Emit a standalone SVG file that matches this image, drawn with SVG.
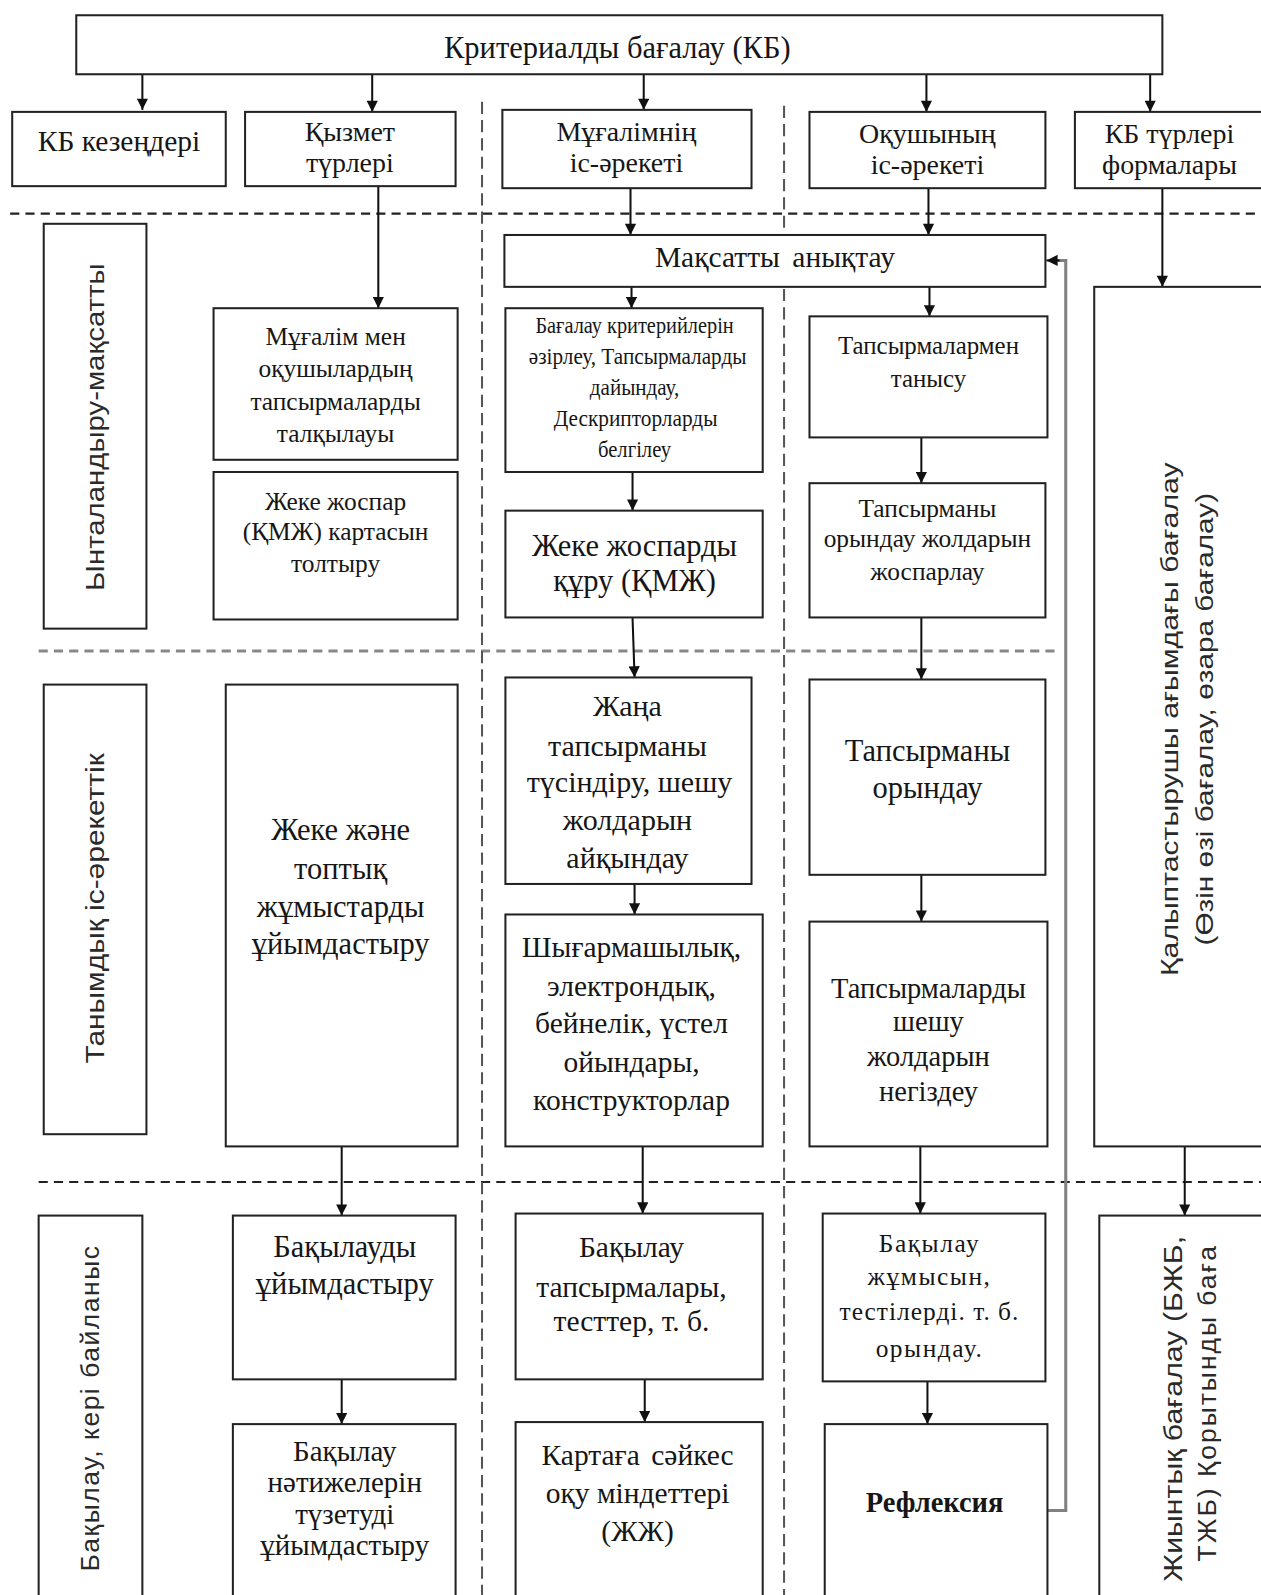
<svg xmlns="http://www.w3.org/2000/svg" width="1261" height="1595" viewBox="0 0 1261 1595">
<defs>
<style>
.bg{fill:#fff}
.box{fill:#fff;stroke:#222;stroke-width:2}
.t{font-family:"Liberation Serif","Times New Roman",serif;fill:#161616;text-anchor:middle}
.s{font-family:"Liberation Sans",Arial,sans-serif;fill:#2a2a2a;text-anchor:middle}
.c{fill:none;stroke:#111;stroke-width:2}
.fb{fill:none;stroke:#808080;stroke-width:3}
.hd{fill:none;stroke:#222;stroke-width:2;stroke-dasharray:9 6}
.hg{fill:none;stroke:#888;stroke-width:3;stroke-dasharray:9 6}
.vd{fill:none;stroke:#555;stroke-width:2;stroke-dasharray:12 6}
</style>
<marker id="ah" viewBox="0 0 10 10" refX="10" refY="5" markerUnits="userSpaceOnUse" markerWidth="13" markerHeight="11" orient="auto">
<path d="M0,0 L10,5 L0,10 z" fill="#111"/>
</marker>
</defs>
<rect class="bg" x="0" y="0" width="1261" height="1595"/>
<g id="diagram" transform="scale(1.01694,1.01722)">

<g id="separators">
<line class="hd" x1="10" y1="210" x2="1261" y2="210"/>
<line class="hg" x1="38" y1="640" x2="1040" y2="640"/>
<line class="hd" x1="38" y1="1162" x2="1261" y2="1162"/>
<line class="vd" x1="474" y1="100" x2="474" y2="1595"/>
<line class="vd" x1="771" y1="104" x2="771" y2="1595"/>
</g>

<g id="connectors">
<line class="c" x1="140" y1="73" x2="140" y2="108" marker-end="url(#ah)"/>
<line class="c" x1="366" y1="73" x2="366" y2="110" marker-end="url(#ah)"/>
<line class="c" x1="633" y1="73" x2="633" y2="108" marker-end="url(#ah)"/>
<line class="c" x1="911" y1="73" x2="911" y2="110" marker-end="url(#ah)"/>
<line class="c" x1="1131" y1="73" x2="1131" y2="110" marker-end="url(#ah)"/>
<line class="c" x1="372" y1="183" x2="372" y2="303" marker-end="url(#ah)"/>
<line class="c" x1="620" y1="185" x2="620" y2="231" marker-end="url(#ah)"/>
<line class="c" x1="913" y1="185" x2="913" y2="231" marker-end="url(#ah)"/>
<line class="c" x1="1143" y1="185" x2="1143" y2="282" marker-end="url(#ah)"/>
<line class="c" x1="621" y1="282" x2="621" y2="303" marker-end="url(#ah)"/>
<line class="c" x1="914" y1="282" x2="914" y2="311" marker-end="url(#ah)"/>
<line class="c" x1="622" y1="464" x2="622" y2="502" marker-end="url(#ah)"/>
<line class="c" x1="906" y1="430" x2="906" y2="475" marker-end="url(#ah)"/>
<line class="c" x1="622" y1="607" x2="624" y2="666" marker-end="url(#ah)"/>
<line class="c" x1="906" y1="607" x2="906" y2="668" marker-end="url(#ah)"/>
<line class="c" x1="624" y1="869" x2="624" y2="899" marker-end="url(#ah)"/>
<line class="c" x1="906" y1="860" x2="906" y2="906" marker-end="url(#ah)"/>
<line class="c" x1="336" y1="1127" x2="336" y2="1195" marker-end="url(#ah)"/>
<line class="c" x1="632" y1="1127" x2="632" y2="1193" marker-end="url(#ah)"/>
<line class="c" x1="905" y1="1127" x2="905" y2="1193" marker-end="url(#ah)"/>
<line class="c" x1="1165" y1="1127" x2="1165" y2="1195" marker-end="url(#ah)"/>
<line class="c" x1="336" y1="1356" x2="336" y2="1400" marker-end="url(#ah)"/>
<line class="c" x1="634" y1="1356" x2="634" y2="1398" marker-end="url(#ah)"/>
<line class="c" x1="912" y1="1358" x2="912" y2="1400" marker-end="url(#ah)"/>
<polyline class="fb" points="1030,1485 1048,1485 1048,256 1040,256"/>
<line class="c" x1="1042" y1="256" x2="1029" y2="256" marker-end="url(#ah)"/>
</g>

<g id="n-root">
<rect class="box" x="75" y="15" width="1068" height="58"/>
<text class="t" x="607" y="57" font-size="30">Критериалды бағалау (КБ)</text>
</g>

<g id="n-kb-stages">
<rect class="box" x="12" y="110" width="210" height="73"/>
<text class="t" x="117" y="148" font-size="29">КБ кезеңдері</text>
</g>
<g id="n-service">
<rect class="box" x="241" y="110" width="207" height="73"/>
<text class="t" x="344" y="139" font-size="27.5">Қызмет</text>
<text class="t" x="344" y="169" font-size="27.5">түрлері</text>
</g>
<g id="n-teacher">
<rect class="box" x="494" y="108" width="245" height="77"/>
<text class="t" x="616" y="139" font-size="27.5">Мұғалімнің</text>
<text class="t" x="616" y="169" font-size="27.5">іс-әрекеті</text>
</g>
<g id="n-student">
<rect class="box" x="796" y="110" width="232" height="75"/>
<text class="t" x="912" y="141" font-size="27.5">Оқушының</text>
<text class="t" x="912" y="171" font-size="27.5">іс-әрекеті</text>
</g>
<g id="n-kb-types">
<rect class="box" x="1057" y="110" width="215" height="75"/>
<text class="t" x="1150" y="141" font-size="27.5">КБ түрлері</text>
<text class="t" x="1150" y="171" font-size="27.5">формалары</text>
</g>

<g id="n-stage1">
<rect class="box" x="43" y="220" width="101" height="398"/>
<text class="s" transform="translate(102,420) rotate(-90)" font-size="26" textLength="322" lengthAdjust="spacingAndGlyphs">Ынталандыру-мақсатты</text>
</g>
<g id="n-stage2">
<rect class="box" x="43" y="673" width="101" height="442"/>
<text class="s" transform="translate(102,893) rotate(-90)" font-size="26" textLength="305" lengthAdjust="spacingAndGlyphs">Танымдық іс-әрекеттік</text>
</g>
<g id="n-stage3">
<rect class="box" x="38" y="1195" width="102" height="410"/>
<text class="s" transform="translate(97,1385) rotate(-90)" font-size="26" textLength="320" lengthAdjust="spacing">Бақылау, кері байланыс</text>
</g>

<g id="n-discuss">
<rect class="box" x="210" y="303" width="240" height="149"/>
<text class="t" x="330" y="339" font-size="25">Мұғалім мен</text>
<text class="t" x="330" y="371" font-size="25">оқушылардың</text>
<text class="t" x="330" y="403" font-size="25">тапсырмаларды</text>
<text class="t" x="330" y="435" font-size="25">талқылауы</text>
</g>
<g id="n-fill-plan">
<rect class="box" x="210" y="464" width="240" height="145"/>
<text class="t" x="330" y="501" font-size="25">Жеке жоспар</text>
<text class="t" x="330" y="531" font-size="25">(ҚМЖ) картасын</text>
<text class="t" x="330" y="562" font-size="25">толтыру</text>
</g>
<g id="n-goal">
<rect class="box" x="496" y="231" width="532" height="51"/>
<text class="t" x="762" y="262" font-size="29" word-spacing="5">Мақсатты анықтау</text>
</g>
<g id="n-criteria">
<rect class="box" x="497" y="303" width="253" height="161"/>
<text class="t" x="624" y="327" font-size="22" textLength="195" lengthAdjust="spacingAndGlyphs">Бағалау критерийлерін</text>
<text class="t" x="627" y="358" font-size="22" textLength="214" lengthAdjust="spacingAndGlyphs">әзірлеу, Тапсырмаларды</text>
<text class="t" x="624" y="388" font-size="22" textLength="88" lengthAdjust="spacingAndGlyphs">дайындау,</text>
<text class="t" x="625" y="419" font-size="22" textLength="161" lengthAdjust="spacingAndGlyphs">Дескрипторларды</text>
<text class="t" x="624" y="449" font-size="22" textLength="72" lengthAdjust="spacingAndGlyphs">белгілеу</text>
</g>
<g id="n-plan">
<rect class="box" x="497" y="502" width="253" height="105"/>
<text class="t" x="624" y="547" font-size="30">Жеке жоспарды</text>
<text class="t" x="624" y="581" font-size="30">құру (ҚМЖ)</text>
</g>
<g id="n-familiar">
<rect class="box" x="796" y="311" width="234" height="119"/>
<text class="t" x="913" y="348" font-size="24.5">Тапсырмалармен</text>
<text class="t" x="913" y="380" font-size="24.5">танысу</text>
</g>
<g id="n-plan-ways">
<rect class="box" x="796" y="475" width="232" height="132"/>
<text class="t" x="912" y="508" font-size="25" fill="#000">Тапсырманы</text>
<text class="t" x="912" y="538" font-size="25" fill="#000">орындау жолдарын</text>
<text class="t" x="912" y="570" font-size="25" fill="#000">жоспарлау</text>
</g>

<g id="n-formative">
<rect class="box" x="1076" y="282" width="200" height="845"/>
<text class="s" transform="translate(1158,707) rotate(-90)" font-size="24" textLength="505" lengthAdjust="spacingAndGlyphs">Қалыптастырушы ағымдағы бағалау</text>
<text class="s" transform="translate(1193,707) rotate(-90)" font-size="24" textLength="445" lengthAdjust="spacingAndGlyphs">(Өзін өзі бағалау, өзара бағалау)</text>
</g>

<g id="n-organize">
<rect class="box" x="222" y="673" width="228" height="454"/>
<text class="t" x="335" y="826" font-size="30">Жеке және</text>
<text class="t" x="335" y="864" font-size="30">топтық</text>
<text class="t" x="335" y="901" font-size="30">жұмыстарды</text>
<text class="t" x="335" y="938" font-size="30">ұйымдастыру</text>
</g>
<g id="n-explain">
<rect class="box" x="497" y="666" width="242" height="203"/>
<text class="t" x="617" y="704" font-size="29.5">Жаңа</text>
<text class="t" x="617" y="743" font-size="29.5">тапсырманы</text>
<text class="t" x="619" y="779" font-size="29.5">түсіндіру, шешу</text>
<text class="t" x="617" y="816" font-size="29.5">жолдарын</text>
<text class="t" x="617" y="853" font-size="29.5">айқындау</text>
</g>
<g id="n-creative">
<rect class="box" x="497" y="899" width="253" height="228"/>
<text class="t" x="621" y="941" font-size="29">Шығармашылық,</text>
<text class="t" x="621" y="979" font-size="29">электрондық,</text>
<text class="t" x="621" y="1016" font-size="29">бейнелік, үстел</text>
<text class="t" x="621" y="1054" font-size="29">ойындары,</text>
<text class="t" x="621" y="1091" font-size="29">конструкторлар</text>
</g>
<g id="n-do-task">
<rect class="box" x="796" y="668" width="232" height="192"/>
<text class="t" x="912" y="748" font-size="30">Тапсырманы</text>
<text class="t" x="912" y="784" font-size="30">орындау</text>
</g>
<g id="n-justify">
<rect class="box" x="796" y="906" width="234" height="221"/>
<text class="t" x="913" y="981" font-size="28">Тапсырмаларды</text>
<text class="t" x="913" y="1014" font-size="28">шешу</text>
<text class="t" x="913" y="1048" font-size="28">жолдарын</text>
<text class="t" x="913" y="1082" font-size="28">негіздеу</text>
</g>

<g id="n-org-control">
<rect class="box" x="229" y="1195" width="219" height="161"/>
<text class="t" x="339" y="1236" font-size="30">Бақылауды</text>
<text class="t" x="339" y="1272" font-size="30">ұйымдастыру</text>
</g>
<g id="n-correct">
<rect class="box" x="229" y="1400" width="219" height="193"/>
<text class="t" x="339" y="1436" font-size="28.5">Бақылау</text>
<text class="t" x="339" y="1467" font-size="28.5">нәтижелерін</text>
<text class="t" x="339" y="1498" font-size="28.5">түзетуді</text>
<text class="t" x="339" y="1529" font-size="28.5">ұйымдастыру</text>
</g>
<g id="n-control-tasks">
<rect class="box" x="507" y="1193" width="243" height="163"/>
<text class="t" x="621" y="1236" font-size="29">Бақылау</text>
<text class="t" x="621" y="1275" font-size="29">тапсырмалары,</text>
<text class="t" x="621" y="1308" font-size="29">тесттер,  т. б.</text>
</g>
<g id="n-map">
<rect class="box" x="507" y="1398" width="243" height="195"/>
<text class="t" x="627" y="1440" font-size="29" word-spacing="4">Картаға сәйкес</text>
<text class="t" x="627" y="1478" font-size="29">оқу міндеттері</text>
<text class="t" x="627" y="1515" font-size="29">(ЖЖ)</text>
</g>
<g id="n-do-control">
<rect class="box" x="809" y="1193" width="219" height="165"/>
<text class="t" x="914" y="1231" font-size="25" letter-spacing="1.5">Бақылау</text>
<text class="t" x="914" y="1263" font-size="25" letter-spacing="1.5">жұмысын,</text>
<text class="t" x="914" y="1298" font-size="25" letter-spacing="1">тестілерді. т. б.</text>
<text class="t" x="914" y="1334" font-size="25" letter-spacing="1.5">орындау.</text>
</g>
<g id="n-reflection">
<rect class="box" x="811" y="1400" width="219" height="193"/>
<text class="t" x="919" y="1486" font-size="28" font-weight="bold">Рефлексия</text>
</g>
<g id="n-summative">
<rect class="box" x="1081" y="1195" width="200" height="410"/>
<text class="s" transform="translate(1162,1385) rotate(-90)" font-size="26" textLength="340" lengthAdjust="spacingAndGlyphs">Жиынтық бағалау (БЖБ,</text>
<text class="s" transform="translate(1196,1380) rotate(-90)" font-size="26" textLength="310" lengthAdjust="spacing">ТЖБ) Қорытынды баға</text>
</g>
</g>
</svg>
